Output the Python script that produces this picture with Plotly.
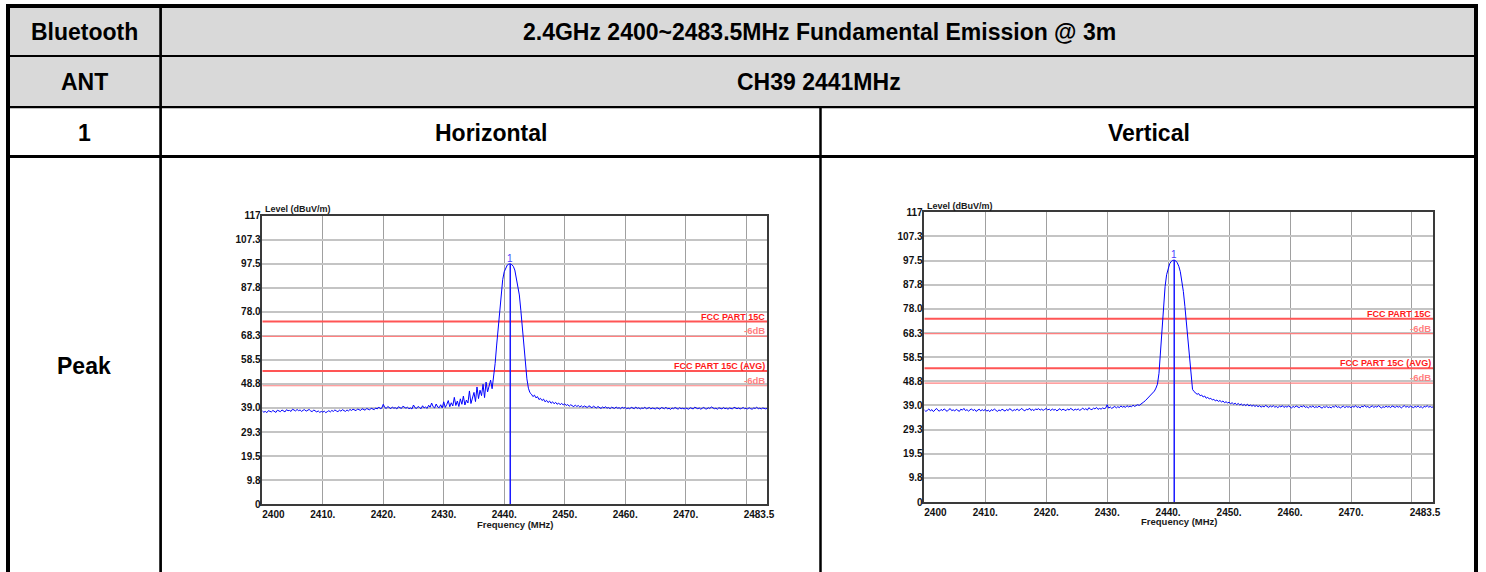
import plotly.graph_objects as go

# Page size in pixels; the table and charts are laid out in page pixels.
W, H = 1486, 572

# ---------------------------------------------------------------- data
# Spectrum analyser sweep, 0.25 MHz bins, 2400 .. 2483.5 MHz
N_BINS = 335
FREQ_MHZ = [2400 + 0.25 * i for i in range(N_BINS)]

# Horizontal polarisation, peak detector (dBuV/m); one row = 5 MHz
LEVEL_H = [
    37.8, 37.3, 37.6, 37.1, 37.9, 37.5, 37.4, 38.0, 37.6, 37.2, 38.1, 37.7, 37.5, 38.2, 37.8, 37.4, 38.3, 37.9, 38.0, 37.6,
    38.5, 38.0, 37.8, 38.4, 37.9, 38.2, 37.6, 38.1, 38.3, 37.7, 38.0, 38.4, 37.8, 37.5, 38.2, 37.9, 37.4, 37.8, 37.2, 37.6,
    37.3, 37.7, 37.1, 37.5, 37.9, 37.4, 38.0, 37.6, 38.2, 37.8, 37.5, 38.1, 37.7, 38.3, 37.9, 37.6, 38.2, 37.8, 38.4, 38.0,
    38.5, 38.1, 37.9, 38.6, 38.2, 38.0, 38.7, 38.3, 38.1, 38.8, 38.4, 38.2, 38.9, 38.5, 38.3, 39.0, 38.6, 39.4, 38.7, 38.9,
    40.5, 39.2, 38.8, 39.6, 39.0, 38.7, 39.4, 38.9, 39.1, 38.6, 39.5, 39.0, 38.8, 39.7, 39.1, 38.9, 39.3, 38.7, 39.0, 38.6,
    40.2, 39.1, 38.8, 39.6, 39.2, 38.7, 39.9, 39.0, 39.4, 38.8, 40.1, 39.3, 41.0, 39.5, 39.0, 40.6, 39.4, 39.1, 40.3, 39.0,
    41.5, 39.2, 40.4, 42.0, 39.5, 41.1, 39.8, 43.3, 40.0, 41.8, 39.6, 42.7, 40.5, 43.8, 40.2, 42.2, 41.0, 45.9, 40.8, 43.5,
    45.3, 41.6, 47.5, 42.8, 46.2, 44.0, 48.6, 43.2, 49.5, 45.5, 47.8, 50.3, 46.8, 51.0, 57.0, 64.5, 71.8, 79.5, 86.6, 91.0,
    94.2, 95.9, 96.9, 97.3, 97.4, 97.1, 96.4, 94.9, 92.0, 88.7, 84.8, 78.5, 71.8, 64.2, 57.0, 50.8, 47.0, 45.2, 44.6, 43.6,
    44.2, 43.1, 43.6, 42.4, 42.9, 42.0, 42.6, 41.5, 42.1, 41.2, 41.8, 40.9, 41.5, 40.7, 41.3, 40.5, 41.0, 40.3, 40.9, 40.2,
    40.7, 40.0, 40.4, 39.7, 40.3, 39.9, 39.5, 40.2, 39.6, 40.0, 39.4, 39.9, 39.3, 39.8, 39.5, 39.2, 39.9, 39.4, 39.1, 39.7,
    39.3, 39.0, 39.6, 39.1, 38.8, 39.4, 39.0, 39.5, 38.9, 39.2, 38.7, 39.3, 39.0, 38.8, 39.4, 38.9, 39.1, 38.7, 39.3, 38.9,
    39.2, 38.7, 39.0, 38.6, 39.3, 38.9, 38.7, 39.4, 38.8, 39.1, 38.6, 39.0, 38.8, 39.3, 38.7, 38.9, 39.2, 38.6, 39.0, 38.8,
    38.6, 39.1, 38.8, 38.5, 39.2, 38.9, 38.7, 39.3, 38.6, 38.9, 38.4, 39.0, 38.7, 39.2, 38.8, 38.5, 39.1, 38.7, 38.9, 38.6,
    39.0, 38.7, 38.5, 39.1, 38.8, 38.6, 39.3, 38.9, 38.7, 39.0, 38.5, 38.9, 39.2, 38.7, 38.6, 39.1, 38.8, 39.4, 38.9, 38.7,
    38.9, 38.5, 39.1, 38.8, 38.6, 39.2, 38.7, 38.9, 38.5, 39.0, 38.8, 38.6, 39.3, 38.9, 38.7, 39.0, 38.6, 38.8, 39.2, 38.7,
    38.9, 38.6, 39.1, 38.7, 38.5, 39.0, 38.8, 39.3, 38.7, 38.9, 38.6, 39.0, 38.8, 38.6, 38.9,
]

# Vertical polarisation, peak detector (dBuV/m); one row = 5 MHz
LEVEL_V = [
    37.2, 36.6, 37.0, 37.6, 36.8, 37.3, 36.5, 37.1, 37.8, 37.0, 36.7, 37.4, 36.9, 37.6, 37.1, 36.6, 37.3, 37.7, 36.9, 37.2,
    36.8, 37.4, 37.0, 36.6, 37.5, 37.1, 37.8, 36.9, 37.3, 36.7, 37.2, 37.6, 36.9, 37.4, 36.6, 37.0, 37.5, 36.8, 37.3, 36.9,
    37.4, 36.7, 37.1, 36.5, 37.3, 36.9, 37.6, 37.0, 36.6, 37.2, 36.8, 37.5, 37.1, 36.7, 37.4, 36.9, 37.7, 37.2, 36.8, 37.3,
    37.0, 37.6, 36.9, 37.3, 37.8, 37.1, 36.8, 37.5, 37.2, 37.9, 37.0, 37.4, 36.9, 37.6, 37.3, 37.7, 37.1, 37.5, 37.0, 37.4,
    37.8, 37.2, 37.5, 36.9, 37.6, 37.1, 37.4, 36.8, 37.3, 37.7, 37.0, 37.5, 37.2, 36.9, 37.6, 37.1, 37.8, 37.3, 37.0, 37.5,
    37.2, 37.6, 37.0, 37.4, 37.9, 37.3, 37.7, 37.1, 38.1, 37.5, 37.3, 37.9, 37.6, 38.2, 37.4, 37.8, 37.5, 38.0, 37.7, 37.9,
    39.3, 37.9, 38.4, 37.8, 38.2, 38.6, 38.0, 38.5, 38.1, 38.8, 38.3, 38.6, 38.2, 38.9, 38.4, 38.7, 38.5, 39.1, 38.6, 38.9,
    39.3, 39.0, 39.6, 39.9, 40.4, 40.9, 41.5, 42.1, 42.9, 43.4, 44.1, 44.8, 46.0, 47.6, 52.0, 61.0, 71.5, 80.5, 87.0, 91.8,
    94.3, 96.2, 97.1, 97.6, 97.7, 97.4, 96.6, 95.2, 93.0, 89.5, 85.0, 79.0, 72.0, 65.5, 59.4, 52.0, 45.5, 44.6, 44.0, 43.5,
    43.8, 42.9, 43.2, 42.4, 42.8, 41.9, 42.3, 41.6, 41.9, 41.2, 41.5, 40.8, 41.2, 40.6, 41.0, 40.4, 40.8, 40.1, 40.5, 40.0,
    40.3, 39.7, 40.1, 39.5, 39.9, 39.3, 39.8, 39.2, 39.6, 39.0, 39.4, 38.9, 39.5, 38.8, 39.2, 38.7, 39.1, 38.6, 39.0, 38.5,
    38.9, 38.3, 38.7, 38.4, 39.0, 38.5, 38.2, 38.8, 38.4, 38.9, 38.3, 38.6, 38.1, 38.7, 38.4, 38.9, 38.2, 38.6, 38.3, 38.8,
    38.4, 38.0, 38.6, 38.2, 38.8, 38.3, 38.1, 38.7, 38.4, 38.9, 38.2, 38.5, 38.0, 38.6, 38.3, 38.8, 38.1, 38.5, 38.2, 38.7,
    38.3, 37.9, 38.5, 38.2, 38.7, 38.1, 38.4, 38.0, 38.6, 38.3, 38.9, 38.2, 38.5, 38.0, 38.4, 38.7, 38.1, 38.6, 38.3, 38.5,
    38.1, 38.6, 38.3, 38.9, 38.2, 38.5, 38.0, 38.7, 38.4, 39.0, 38.3, 38.6, 38.1, 38.5, 38.8, 38.2, 38.6, 38.3, 38.9, 38.4,
    38.0, 38.5, 38.2, 38.7, 38.3, 38.6, 38.1, 38.8, 38.4, 38.2, 38.7, 38.3, 38.6, 38.0, 38.5, 38.9, 38.3, 38.6, 38.2, 38.7,
    38.4, 38.1, 38.6, 38.3, 38.8, 38.2, 38.5, 38.0, 38.6, 38.4, 38.9, 38.3, 38.6, 38.2, 38.5,
]
assert len(LEVEL_H) == N_BINS and len(LEVEL_V) == N_BINS

# Marker 1 (peak search result)
MARKER_FREQ = 2441.0
MARKER_LEVEL_H = 97.4
MARKER_LEVEL_V = 97.7

# FCC Part 15C limits (dBuV/m) and the -6 dB margin lines
LIMIT_PEAK = 74.0
LIMIT_AVG = 54.0
MARGIN_DB = 6.0

Y_TICKS = [0, 9.75, 19.5, 29.25, 39.0, 48.75, 58.5, 68.25, 78.0, 87.75, 97.5, 107.25, 117]
Y_TICK_TEXT = ["0", "9.8", "19.5", "29.3", "39.0", "48.8", "58.5", "68.3",
               "78.0", "87.8", "97.5", "107.3", "117"]
X_TICKS = [2400, 2410, 2420, 2430, 2440, 2450, 2460, 2470, 2480, 2483.5]
X_TICK_TEXT = ["2400", "2410.", "2420.", "2430.", "2440.", "2450.", "2460.",
               "2470.", "", "2483.5"]

# Table text
HEADER_TITLE = "2.4GHz 2400~2483.5MHz Fundamental Emission @ 3m"
CHANNEL = "CH39 2441MHz"

# ---------------------------------------------------------------- helpers
FONT = "Liberation Sans, Arial, sans-serif"
NBSP = "\u00a0"


def px(x):
    """page pixel x -> paper fraction"""
    return x / W


def py(y):
    """page pixel y (top down) -> paper fraction"""
    return 1 - y / H


fig = go.Figure()

# chart placement (page-pixel boxes of the two plot areas)
charts = [
    dict(x0=262.3, x1=767.3, y0=215.5, y1=504.2, level=LEVEL_H, mk=MARKER_LEVEL_H,
         lvl_x=263, lvl_y=209, frq_x=515.5, frq_y=524),
    dict(x0=924.3, x1=1433.3, y0=212.3, y1=502.0, level=LEVEL_V, mk=MARKER_LEVEL_V,
         lvl_x=925, lvl_y=206, frq_x=1179.5, frq_y=521.5),
]

# padding so the first and last x labels sit inside the frame
x_text = list(X_TICK_TEXT)
x_text[0] = NBSP * 8 + x_text[0]
x_text[-1] = x_text[-1] + NBSP * 6

annotations = []
shapes = []

# ---------------------------------------------------------------- table
GRAY = "#d9d9d9"
L, R, T = 8, 1476, 6
shapes.append(dict(type="rect", xref="paper", yref="paper",
                   x0=px(L), x1=px(R), y0=py(107), y1=py(T),
                   fillcolor=GRAY, line=dict(width=0), layer="below"))


def hline(y, x0, x1, w):
    shapes.append(dict(type="line", xref="paper", yref="paper",
                       x0=px(x0), x1=px(x1), y0=py(y), y1=py(y),
                       line=dict(color="black", width=w)))


def vline(x, y0, y1, w):
    shapes.append(dict(type="line", xref="paper", yref="paper",
                       x0=px(x), x1=px(x), y0=py(y0), y1=py(y1),
                       line=dict(color="black", width=w)))


hline(6, 6, 1478, 4)
hline(56, L, R, 2)
hline(107.2, L, R, 2.3)
hline(156.5, L, R, 3)
vline(8, 4, 572, 4)
vline(1476, 4, 572, 4)
vline(160.6, 6, 572, 2.7)
vline(820.5, 107, 572, 2.5)


def cell_text(text, x, y, size=23):
    annotations.append(dict(text="<b>%s</b>" % text, xref="paper", yref="paper",
                            x=px(x), y=py(y), xanchor="center", yanchor="middle",
                            showarrow=False, font=dict(family=FONT, size=size, color="black")))


cell_text("Bluetooth", 84, 32.5)
cell_text(HEADER_TITLE, 819, 32.5)
cell_text("ANT", 84, 82.5)
cell_text(CHANNEL, 819, 82.5)
cell_text("1", 84, 132.5)
cell_text("Horizontal", 490.5, 132.5)
cell_text("Vertical", 1149, 132.5)
cell_text("Peak", 84, 366)

# ---------------------------------------------------------------- charts
for i, c in enumerate(charts):
    n = "" if i == 0 else str(i + 1)
    xa, ya = "x" + n, "y" + n

    # limit lines and their -6 dB margins
    for lim, label in ((LIMIT_PEAK, "FCC PART 15C"), (LIMIT_AVG, "FCC PART 15C (AVG)")):
        fig.add_trace(go.Scatter(x=[X_TICKS[0], X_TICKS[-1]], y=[lim, lim], mode="lines",
                                 line=dict(color="#ff5555", width=2), hoverinfo="skip",
                                 showlegend=False, xaxis=xa, yaxis=ya))
        fig.add_trace(go.Scatter(x=[X_TICKS[0], X_TICKS[-1]], y=[lim - MARGIN_DB, lim - MARGIN_DB],
                                 mode="lines", line=dict(color="#ff8080", width=1.2),
                                 hoverinfo="skip", showlegend=False, xaxis=xa, yaxis=ya))
        annotations.append(dict(text="<b>%s</b>" % label, xref=xa, yref=ya,
                                x=X_TICKS[-1], y=lim, xanchor="right", yanchor="bottom",
                                xshift=-1, yshift=-1, showarrow=False, borderpad=0,
                                font=dict(family=FONT, size=9, color="#ff1a1a")))
        annotations.append(dict(text="<b>-6dB</b>", xref=xa, yref=ya,
                                x=X_TICKS[-1], y=lim - MARGIN_DB, xanchor="right", yanchor="bottom",
                                xshift=-1, yshift=-1, showarrow=False, borderpad=0,
                                font=dict(family=FONT, size=9.5, color="#ff8080")))

    # sweep trace
    fig.add_trace(go.Scatter(x=FREQ_MHZ, y=c["level"], mode="lines",
                             line=dict(color="#0000ff", width=1), showlegend=False,
                             xaxis=xa, yaxis=ya))
    # marker 1
    fig.add_trace(go.Scatter(x=[MARKER_FREQ, MARKER_FREQ], y=[0, c["mk"]], mode="lines",
                             line=dict(color="#1a1aff", width=1.5), showlegend=False,
                             xaxis=xa, yaxis=ya))
    annotations.append(dict(text="1", xref=xa, yref=ya, x=MARKER_FREQ, y=c["mk"],
                            xanchor="center", yanchor="bottom", yshift=-1, showarrow=False,
                            borderpad=0, font=dict(family=FONT, size=10, color="#4a3aff")))

    # axis captions
    annotations.append(dict(text="<b>Level (dBuV/m)</b>", xref="paper", yref="paper",
                            x=px(c["lvl_x"]), y=py(c["lvl_y"]), xanchor="left", yanchor="middle",
                            showarrow=False, font=dict(family=FONT, size=9, color="#1a1a1a")))
    annotations.append(dict(text="<b>Frequency (MHz)</b>", xref="paper", yref="paper",
                            x=px(c["frq_x"]), y=py(c["frq_y"]), xanchor="center", yanchor="middle",
                            showarrow=False, font=dict(family=FONT, size=9.5, color="#1a1a1a")))

    axis_common = dict(showline=True, linecolor="#3a3a3a", linewidth=1.5, mirror=True,
                       ticks="", zeroline=False, fixedrange=True, automargin=False,
                       tickfont=dict(family=FONT, size=10, color="#111111", weight="bold"))
    fig.update_layout(**{
        "xaxis" + n: dict(domain=[px(c["x0"]), px(c["x1"])], anchor=ya,
                          range=[X_TICKS[0], X_TICKS[-1]], tickmode="array",
                          tickvals=X_TICKS, ticktext=x_text,
                          showgrid=True, gridcolor="#a0a0a0", gridwidth=1.2, **axis_common),
        "yaxis" + n: dict(domain=[py(c["y1"]), py(c["y0"])], anchor=xa,
                          range=[0, 117], tickmode="array",
                          tickvals=Y_TICKS, ticktext=Y_TICK_TEXT,
                          showgrid=True, gridcolor="#c4c4c4", gridwidth=1.6,
                          ticklabelstandoff=-2, **axis_common),
    })

# fixed margins: nothing is allowed to grow them, so page pixels map 1:1
fig.update_layout(width=W, height=H, margin=dict(l=0, r=0, t=0, b=0, autoexpand=False),
                  paper_bgcolor="white", plot_bgcolor="white",
                  shapes=shapes, annotations=annotations, showlegend=False)

fig.write_html("out.html", config={"displayModeBar": False})
